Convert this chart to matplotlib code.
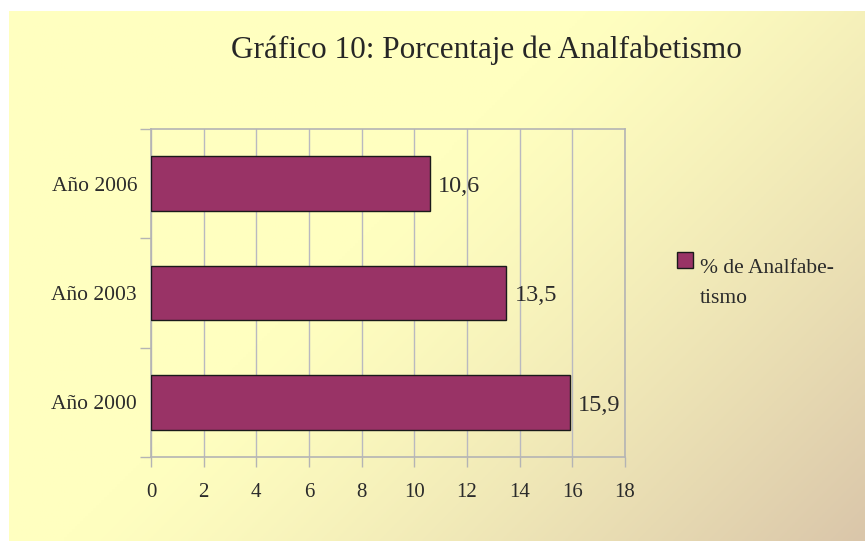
import numpy as np
import matplotlib
matplotlib.use('Agg')
import matplotlib.pyplot as plt
from matplotlib.ticker import FixedLocator

## Data
categorias = ['Año 2000', 'Año 2003', 'Año 2006']
valores = [15.9, 13.5, 10.6]
etiquetas = ['15,9', '13,5', '10,6']
xticks = [0, 2, 4, 6, 8, 10, 12, 14, 16, 18]
titulo = 'Gráfico 10: Porcentaje de Analfabetismo'
serie = '% de Analfabe-\ntismo'

plt.rcParams['font.family'] = ['Liberation Serif', 'DejaVu Serif']

W, H = 865, 541
fig = plt.figure(figsize=(W/100, H/100), dpi=100)
fig.patch.set_facecolor('white')

# fondo degradado (amarillo claro -> beige abajo a la derecha)
bg = fig.add_axes([9/W, 0, (W-9)/W, (H-11)/H])
bg.set_axis_off()
yy, xx = np.mgrid[0:1:200j, 0:1:320j]
t = np.clip((0.62*xx + 0.38*yy - 0.42)/0.58, 0, 1)**1.3
c0 = np.array([255, 255, 192])/255
c1 = np.array([218, 198, 170])/255
img = c0[None, None, :]*(1-t[..., None]) + c1[None, None, :]*t[..., None]
bg.imshow(img, aspect='auto', extent=[0, 1, 1, 0])
bg.set_xlim(0, 1)
bg.set_ylim(1, 0)

ax = fig.add_axes([151/W, 84/H, 474/W, 328/H])
ax.patch.set_alpha(0)
pos = np.arange(len(categorias))
ax.barh(pos, valores, height=0.5, color='#993366', edgecolor='#1a1a1a',
        linewidth=1.0, zorder=3)
for p, v, e in zip(pos, valores, etiquetas):
    ax.text(v + 0.3, p - 0.025, e, va='center', ha='left', fontsize=17.5,
            color='#2b2b2b')

ax.set_xlim(0, 18)
ax.set_ylim(-0.5, 2.5)
ax.set_xticks(xticks)
ax.set_xticklabels([str(x) for x in xticks], fontsize=15, color='#2b2b2b')
ax.yaxis.set_major_locator(FixedLocator([-0.5, 0.5, 1.5, 2.5]))
ax.set_yticklabels([])
ax.yaxis.set_minor_locator(FixedLocator(pos))
ax.set_yticklabels(categorias, minor=True, fontsize=15.5, color='#2b2b2b')
ax.tick_params(axis='y', which='minor', length=0, pad=10)
ax.tick_params(axis='y', which='major', length=8, width=1, color='#b4b4b4',
               direction='out')
ax.tick_params(axis='x', length=7.5, width=1, color='#b4b4b4', direction='out',
               pad=11)
ax.grid(axis='x', color='#b9b9c0', linewidth=1, zorder=0)
ax.set_axisbelow(True)
for s in ax.spines.values():
    s.set_color('#b4b4b4')
    s.set_linewidth(1.2)

fig.text(486/W, 1 - 50/H, titulo, ha='center', va='center', fontsize=22.5,
         color='#262626')

# leyenda
fig.patches.append(plt.Rectangle((677/W, 1 - 268/H), 16/W, 16/H,
                                 transform=fig.transFigure, facecolor='#993366',
                                 edgecolor='#1a1a1a', linewidth=1))
fig.text(700/W, 1 - 259/H, serie, ha='left', va='top', fontsize=15.5,
         color='#2b2b2b', linespacing=1.75)

fig.savefig('out.png', dpi=100)
